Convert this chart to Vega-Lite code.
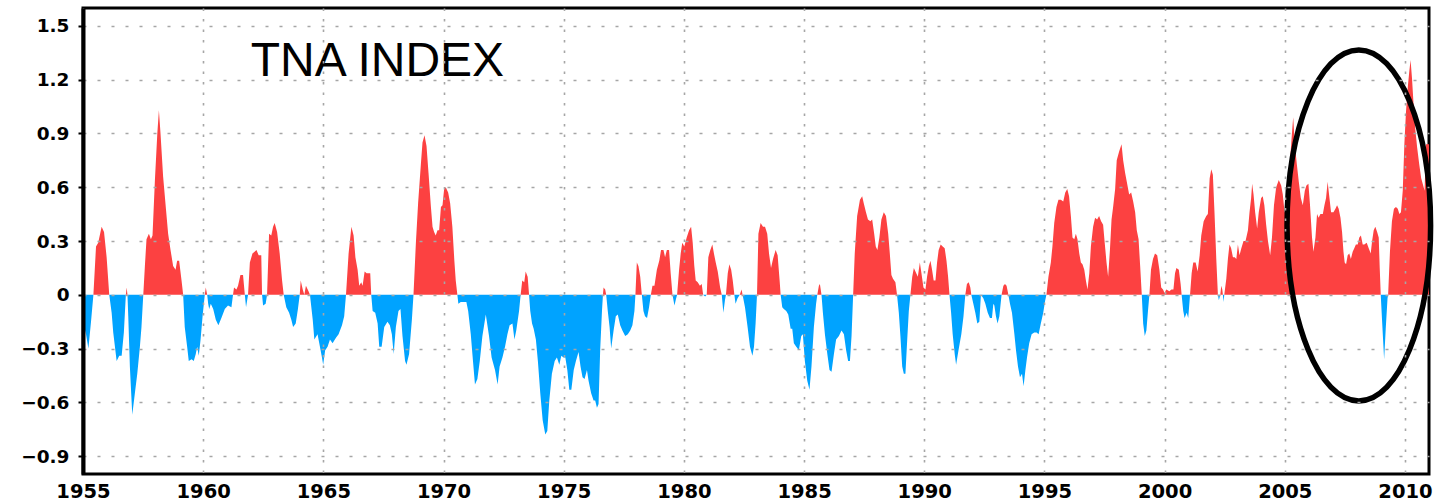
{
"$schema": "https://vega.github.io/schema/vega-lite/v6.json",
"width": 1346, "height": 466,
"autosize": "none",
"padding": {"left": 83, "top": 8, "right": 16, "bottom": 30},
"background": "white",
"config": {"view": {"stroke": "black", "strokeWidth": 3}},
"data": {"values": [
{"t":1955.000,"v":-0.15},{"t":1955.125,"v":-0.22},{"t":1955.225,"v":-0.30},{"t":1955.333,"v":-0.15},{"t":1955.433,"v":0},{"t":1955.542,"v":0.27},{"t":1955.633,"v":0.29},{"t":1955.775,"v":0.38},{"t":1955.875,"v":0.35},{"t":1955.983,"v":0.21},
{"t":1956.092,"v":0},{"t":1956.192,"v":-0.10},{"t":1956.258,"v":-0.21},{"t":1956.400,"v":-0.37},{"t":1956.508,"v":-0.34},{"t":1956.608,"v":-0.34},{"t":1956.700,"v":-0.21},{"t":1956.783,"v":0},{"t":1956.817,"v":0.04},{"t":1956.850,"v":0},{"t":1956.883,"v":-0.12},{"t":1956.950,"v":-0.40},
{"t":1957.050,"v":-0.67},{"t":1957.158,"v":-0.55},{"t":1957.258,"v":-0.44},{"t":1957.367,"v":-0.29},{"t":1957.433,"v":-0.18},{"t":1957.508,"v":0},{"t":1957.575,"v":0.16},{"t":1957.642,"v":0.31},{"t":1957.742,"v":0.34},{"t":1957.825,"v":0.31},{"t":1957.892,"v":0.33},{"t":1957.992,"v":0.64},
{"t":1958.092,"v":0.90},{"t":1958.158,"v":1.03},{"t":1958.225,"v":0.90},{"t":1958.333,"v":0.66},{"t":1958.450,"v":0.48},{"t":1958.542,"v":0.34},{"t":1958.642,"v":0.25},{"t":1958.750,"v":0.16},{"t":1958.850,"v":0.14},{"t":1958.917,"v":0.19},
{"t":1959.000,"v":0.19},{"t":1959.100,"v":0.08},{"t":1959.167,"v":0},{"t":1959.233,"v":-0.18},{"t":1959.333,"v":-0.29},{"t":1959.400,"v":-0.37},{"t":1959.517,"v":-0.36},{"t":1959.608,"v":-0.37},{"t":1959.692,"v":-0.33},{"t":1959.750,"v":-0.29},{"t":1959.817,"v":-0.34},{"t":1959.892,"v":-0.25},{"t":1959.975,"v":-0.12},
{"t":1960.067,"v":0},{"t":1960.108,"v":0.04},{"t":1960.167,"v":0},{"t":1960.208,"v":-0.05},{"t":1960.250,"v":-0.08},{"t":1960.317,"v":-0.05},{"t":1960.417,"v":-0.08},{"t":1960.525,"v":-0.14},{"t":1960.633,"v":-0.17},{"t":1960.758,"v":-0.13},{"t":1960.900,"v":-0.08},
{"t":1961.033,"v":-0.06},{"t":1961.175,"v":-0.07},{"t":1961.242,"v":0},{"t":1961.283,"v":0.04},{"t":1961.383,"v":0.03},{"t":1961.450,"v":0.05},{"t":1961.550,"v":0.11},{"t":1961.658,"v":0.11},{"t":1961.733,"v":0},{"t":1961.783,"v":-0.07},{"t":1961.867,"v":0},{"t":1961.942,"v":0.18},
{"t":1962.050,"v":0.23},{"t":1962.217,"v":0.25},{"t":1962.308,"v":0.22},{"t":1962.417,"v":0.22},{"t":1962.450,"v":0},{"t":1962.492,"v":-0.06},{"t":1962.600,"v":-0.05},{"t":1962.658,"v":0},{"t":1962.742,"v":0.34},{"t":1962.833,"v":0.33},{"t":1962.908,"v":0.38},{"t":1962.975,"v":0.40},
{"t":1963.075,"v":0.35},{"t":1963.183,"v":0.23},{"t":1963.283,"v":0.08},{"t":1963.350,"v":0},{"t":1963.458,"v":-0.07},{"t":1963.575,"v":-0.10},{"t":1963.667,"v":-0.14},{"t":1963.742,"v":-0.18},{"t":1963.850,"v":-0.16},{"t":1963.942,"v":-0.08},
{"t":1964.017,"v":0},{"t":1964.058,"v":0.08},{"t":1964.142,"v":0.03},{"t":1964.208,"v":0},{"t":1964.275,"v":0.05},{"t":1964.383,"v":0.02},{"t":1964.442,"v":0},{"t":1964.558,"v":-0.14},{"t":1964.625,"v":-0.25},{"t":1964.758,"v":-0.22},{"t":1964.858,"v":-0.29},{"t":1964.942,"v":-0.35},{"t":1964.992,"v":-0.39},
{"t":1965.075,"v":-0.31},{"t":1965.175,"v":-0.29},{"t":1965.275,"v":-0.25},{"t":1965.383,"v":-0.27},{"t":1965.525,"v":-0.24},{"t":1965.633,"v":-0.22},{"t":1965.775,"v":-0.17},{"t":1965.867,"v":-0.12},{"t":1965.942,"v":0},
{"t":1966.050,"v":0.23},{"t":1966.167,"v":0.38},{"t":1966.258,"v":0.33},{"t":1966.333,"v":0.21},{"t":1966.425,"v":0.14},{"t":1966.492,"v":0.05},{"t":1966.575,"v":0.07},{"t":1966.633,"v":0.05},{"t":1966.717,"v":0.13},{"t":1966.800,"v":0.12},{"t":1966.883,"v":0.12},{"t":1966.950,"v":0.12},{"t":1966.992,"v":0},
{"t":1967.050,"v":-0.09},{"t":1967.158,"v":-0.10},{"t":1967.258,"v":-0.16},{"t":1967.325,"v":-0.29},{"t":1967.425,"v":-0.29},{"t":1967.533,"v":-0.18},{"t":1967.667,"v":-0.15},{"t":1967.767,"v":-0.17},{"t":1967.850,"v":-0.22},{"t":1967.925,"v":-0.33},
{"t":1968.017,"v":-0.18},{"t":1968.125,"v":-0.09},{"t":1968.208,"v":-0.08},{"t":1968.292,"v":-0.23},{"t":1968.400,"v":-0.37},{"t":1968.458,"v":-0.39},{"t":1968.567,"v":-0.33},{"t":1968.683,"v":-0.14},{"t":1968.750,"v":0},{"t":1968.850,"v":0.29},{"t":1968.942,"v":0.51},
{"t":1969.058,"v":0.73},{"t":1969.125,"v":0.85},{"t":1969.208,"v":0.89},{"t":1969.292,"v":0.83},{"t":1969.375,"v":0.68},{"t":1969.475,"v":0.49},{"t":1969.542,"v":0.38},{"t":1969.608,"v":0.35},{"t":1969.675,"v":0.33},{"t":1969.750,"v":0.36},{"t":1969.817,"v":0.36},{"t":1969.892,"v":0.49},{"t":1969.958,"v":0.50},
{"t":1970.025,"v":0.59},{"t":1970.092,"v":0.60},{"t":1970.192,"v":0.57},{"t":1970.275,"v":0.51},{"t":1970.367,"v":0.38},{"t":1970.450,"v":0.19},{"t":1970.508,"v":0.08},{"t":1970.575,"v":0},{"t":1970.617,"v":-0.05},{"t":1970.717,"v":-0.04},{"t":1970.850,"v":-0.04},{"t":1970.950,"v":-0.04},
{"t":1971.025,"v":-0.09},{"t":1971.133,"v":-0.22},{"t":1971.225,"v":-0.37},{"t":1971.308,"v":-0.50},{"t":1971.408,"v":-0.47},{"t":1971.508,"v":-0.37},{"t":1971.617,"v":-0.23},{"t":1971.758,"v":-0.11},{"t":1971.892,"v":-0.23},
{"t":1972.000,"v":-0.35},{"t":1972.142,"v":-0.42},{"t":1972.250,"v":-0.50},{"t":1972.333,"v":-0.40},{"t":1972.450,"v":-0.35},{"t":1972.558,"v":-0.29},{"t":1972.658,"v":-0.22},{"t":1972.750,"v":-0.17},{"t":1972.867,"v":-0.16},{"t":1972.950,"v":-0.25},
{"t":1973.025,"v":-0.20},{"t":1973.142,"v":-0.09},{"t":1973.208,"v":0},{"t":1973.275,"v":0.08},{"t":1973.358,"v":0.07},{"t":1973.417,"v":0.13},{"t":1973.500,"v":0.10},{"t":1973.558,"v":0},{"t":1973.608,"v":-0.09},{"t":1973.683,"v":-0.16},{"t":1973.750,"v":-0.19},{"t":1973.842,"v":-0.25},{"t":1973.925,"v":-0.37},
{"t":1974.025,"v":-0.55},{"t":1974.125,"v":-0.70},{"t":1974.233,"v":-0.78},{"t":1974.317,"v":-0.76},{"t":1974.400,"v":-0.59},{"t":1974.508,"v":-0.44},{"t":1974.625,"v":-0.37},{"t":1974.717,"v":-0.35},{"t":1974.817,"v":-0.39},{"t":1974.900,"v":-0.34},{"t":1974.992,"v":-0.35},
{"t":1975.067,"v":-0.35},{"t":1975.150,"v":-0.42},{"t":1975.233,"v":-0.53},{"t":1975.317,"v":-0.53},{"t":1975.417,"v":-0.42},{"t":1975.508,"v":-0.37},{"t":1975.617,"v":-0.32},{"t":1975.700,"v":-0.40},{"t":1975.783,"v":-0.46},{"t":1975.867,"v":-0.47},{"t":1975.967,"v":-0.42},
{"t":1976.033,"v":-0.48},{"t":1976.142,"v":-0.55},{"t":1976.242,"v":-0.59},{"t":1976.308,"v":-0.59},{"t":1976.383,"v":-0.63},{"t":1976.450,"v":-0.61},{"t":1976.517,"v":-0.31},{"t":1976.592,"v":-0.09},{"t":1976.633,"v":0},{"t":1976.658,"v":0.04},{"t":1976.725,"v":0.03},{"t":1976.767,"v":0},{"t":1976.833,"v":-0.09},{"t":1976.908,"v":-0.18},{"t":1976.975,"v":-0.30},
{"t":1977.075,"v":-0.20},{"t":1977.167,"v":-0.12},{"t":1977.250,"v":-0.11},{"t":1977.350,"v":-0.17},{"t":1977.442,"v":-0.20},{"t":1977.558,"v":-0.23},{"t":1977.667,"v":-0.22},{"t":1977.767,"v":-0.20},{"t":1977.858,"v":-0.17},{"t":1977.942,"v":-0.09},{"t":1977.983,"v":0},
{"t":1978.042,"v":0.18},{"t":1978.108,"v":0.16},{"t":1978.183,"v":0.10},{"t":1978.250,"v":0},{"t":1978.317,"v":-0.09},{"t":1978.383,"v":-0.12},{"t":1978.467,"v":-0.13},{"t":1978.550,"v":-0.07},{"t":1978.625,"v":0},{"t":1978.692,"v":0.05},{"t":1978.775,"v":0.05},{"t":1978.875,"v":0.14},{"t":1978.975,"v":0.19},
{"t":1979.050,"v":0.25},{"t":1979.150,"v":0.25},{"t":1979.217,"v":0.21},{"t":1979.292,"v":0.25},{"t":1979.383,"v":0.25},{"t":1979.450,"v":0.12},{"t":1979.525,"v":0},{"t":1979.608,"v":-0.06},{"t":1979.658,"v":-0.03},{"t":1979.717,"v":0},{"t":1979.800,"v":0.14},{"t":1979.867,"v":0.23},{"t":1979.933,"v":0.29},
{"t":1980.017,"v":0.27},{"t":1980.117,"v":0.32},{"t":1980.217,"v":0.36},{"t":1980.300,"v":0.38},{"t":1980.367,"v":0.29},{"t":1980.433,"v":0.16},{"t":1980.492,"v":0.08},{"t":1980.575,"v":0.07},{"t":1980.667,"v":0.05},{"t":1980.742,"v":0.06},{"t":1980.800,"v":0},{"t":1980.883,"v":-0.01},{"t":1980.950,"v":0},
{"t":1981.017,"v":0.21},{"t":1981.100,"v":0.25},{"t":1981.183,"v":0.28},{"t":1981.250,"v":0.23},{"t":1981.325,"v":0.18},{"t":1981.408,"v":0.13},{"t":1981.508,"v":0.04},{"t":1981.575,"v":0},{"t":1981.642,"v":-0.10},{"t":1981.708,"v":-0.03},{"t":1981.750,"v":0},{"t":1981.825,"v":0.12},{"t":1981.892,"v":0.17},{"t":1981.967,"v":0.14},
{"t":1982.033,"v":0.08},{"t":1982.100,"v":0},{"t":1982.150,"v":-0.05},{"t":1982.233,"v":-0.02},{"t":1982.325,"v":0},{"t":1982.400,"v":0.03},{"t":1982.442,"v":0},{"t":1982.542,"v":-0.07},{"t":1982.650,"v":-0.18},{"t":1982.750,"v":-0.29},{"t":1982.850,"v":-0.34},{"t":1982.917,"v":-0.29},{"t":1982.983,"v":-0.16},
{"t":1983.042,"v":0},{"t":1983.100,"v":0.34},{"t":1983.192,"v":0.40},{"t":1983.292,"v":0.38},{"t":1983.375,"v":0.38},{"t":1983.467,"v":0.34},{"t":1983.542,"v":0.23},{"t":1983.625,"v":0.15},{"t":1983.708,"v":0.20},{"t":1983.817,"v":0.25},{"t":1983.900,"v":0.22},{"t":1983.983,"v":0.08},
{"t":1984.025,"v":0},{"t":1984.092,"v":-0.07},{"t":1984.158,"v":-0.08},{"t":1984.258,"v":-0.09},{"t":1984.342,"v":-0.11},{"t":1984.442,"v":-0.19},{"t":1984.508,"v":-0.19},{"t":1984.575,"v":-0.27},{"t":1984.675,"v":-0.29},{"t":1984.783,"v":-0.31},{"t":1984.883,"v":-0.23},{"t":1984.950,"v":-0.22},
{"t":1985.033,"v":-0.37},{"t":1985.133,"v":-0.48},{"t":1985.225,"v":-0.53},{"t":1985.308,"v":-0.40},{"t":1985.408,"v":-0.18},{"t":1985.500,"v":-0.05},{"t":1985.550,"v":0},{"t":1985.617,"v":0.05},{"t":1985.658,"v":0.06},{"t":1985.725,"v":0},{"t":1985.783,"v":-0.10},{"t":1985.867,"v":-0.22},{"t":1985.967,"v":-0.33},
{"t":1986.058,"v":-0.42},{"t":1986.142,"v":-0.43},{"t":1986.242,"v":-0.33},{"t":1986.333,"v":-0.25},{"t":1986.450,"v":-0.23},{"t":1986.558,"v":-0.20},{"t":1986.658,"v":-0.22},{"t":1986.750,"v":-0.31},{"t":1986.833,"v":-0.37},{"t":1986.908,"v":-0.37},{"t":1986.975,"v":-0.23},
{"t":1987.042,"v":0},{"t":1987.108,"v":0.23},{"t":1987.208,"v":0.44},{"t":1987.325,"v":0.53},{"t":1987.417,"v":0.55},{"t":1987.483,"v":0.51},{"t":1987.575,"v":0.46},{"t":1987.658,"v":0.42},{"t":1987.758,"v":0.41},{"t":1987.833,"v":0.42},{"t":1987.917,"v":0.34},{"t":1987.983,"v":0.27},
{"t":1988.050,"v":0.25},{"t":1988.133,"v":0.32},{"t":1988.217,"v":0.42},{"t":1988.317,"v":0.46},{"t":1988.408,"v":0.44},{"t":1988.500,"v":0.34},{"t":1988.567,"v":0.23},{"t":1988.633,"v":0.11},{"t":1988.700,"v":0.09},{"t":1988.800,"v":0.07},{"t":1988.867,"v":0},{"t":1988.942,"v":-0.10},
{"t":1989.008,"v":-0.23},{"t":1989.083,"v":-0.40},{"t":1989.150,"v":-0.44},{"t":1989.217,"v":-0.44},{"t":1989.292,"v":-0.25},{"t":1989.358,"v":-0.09},{"t":1989.425,"v":0},{"t":1989.500,"v":0.10},{"t":1989.567,"v":0.15},{"t":1989.633,"v":0.13},{"t":1989.733,"v":0.10},{"t":1989.817,"v":0.18},{"t":1989.883,"v":0.12},{"t":1989.967,"v":0.04},
{"t":1990.050,"v":0.03},{"t":1990.117,"v":0.10},{"t":1990.192,"v":0.16},{"t":1990.258,"v":0.19},{"t":1990.325,"v":0.14},{"t":1990.392,"v":0.08},{"t":1990.467,"v":0.08},{"t":1990.533,"v":0.18},{"t":1990.600,"v":0.25},{"t":1990.683,"v":0.28},{"t":1990.767,"v":0.27},{"t":1990.850,"v":0.26},{"t":1990.925,"v":0.19},{"t":1990.992,"v":0.10},
{"t":1991.050,"v":0},{"t":1991.117,"v":-0.10},{"t":1991.183,"v":-0.22},{"t":1991.267,"v":-0.33},{"t":1991.325,"v":-0.39},{"t":1991.425,"v":-0.31},{"t":1991.542,"v":-0.22},{"t":1991.633,"v":-0.12},{"t":1991.708,"v":0},{"t":1991.775,"v":0.06},{"t":1991.850,"v":0.07},{"t":1991.917,"v":0.04},{"t":1991.958,"v":0},
{"t":1992.042,"v":-0.05},{"t":1992.125,"v":-0.10},{"t":1992.208,"v":-0.16},{"t":1992.292,"v":-0.15},{"t":1992.358,"v":0},{"t":1992.458,"v":-0.02},{"t":1992.542,"v":-0.05},{"t":1992.642,"v":-0.10},{"t":1992.733,"v":-0.13},{"t":1992.817,"v":-0.13},{"t":1992.875,"v":-0.05},{"t":1992.917,"v":-0.06},{"t":1992.983,"v":-0.12},
{"t":1993.050,"v":-0.16},{"t":1993.125,"v":-0.12},{"t":1993.217,"v":0},{"t":1993.292,"v":0.05},{"t":1993.358,"v":0.06},{"t":1993.425,"v":0.05},{"t":1993.500,"v":0},{"t":1993.567,"v":-0.05},{"t":1993.650,"v":-0.10},{"t":1993.750,"v":-0.22},{"t":1993.817,"v":-0.31},{"t":1993.900,"v":-0.40},{"t":1993.983,"v":-0.46},
{"t":1994.067,"v":-0.44},{"t":1994.133,"v":-0.51},{"t":1994.208,"v":-0.42},{"t":1994.275,"v":-0.35},{"t":1994.367,"v":-0.27},{"t":1994.467,"v":-0.22},{"t":1994.575,"v":-0.21},{"t":1994.675,"v":-0.21},{"t":1994.758,"v":-0.22},{"t":1994.850,"v":-0.16},{"t":1994.950,"v":-0.10},
{"t":1995.033,"v":-0.03},{"t":1995.083,"v":0},{"t":1995.167,"v":0.10},{"t":1995.267,"v":0.18},{"t":1995.333,"v":0.27},{"t":1995.408,"v":0.40},{"t":1995.500,"v":0.49},{"t":1995.583,"v":0.53},{"t":1995.683,"v":0.53},{"t":1995.783,"v":0.52},{"t":1995.867,"v":0.57},{"t":1995.950,"v":0.59},
{"t":1996.025,"v":0.55},{"t":1996.100,"v":0.44},{"t":1996.167,"v":0.32},{"t":1996.242,"v":0.31},{"t":1996.308,"v":0.34},{"t":1996.375,"v":0.31},{"t":1996.450,"v":0.23},{"t":1996.517,"v":0.18},{"t":1996.583,"v":0.17},{"t":1996.658,"v":0.14},{"t":1996.725,"v":0.08},{"t":1996.792,"v":0.03},{"t":1996.867,"v":0.12},{"t":1996.933,"v":0.27},
{"t":1997.025,"v":0.38},{"t":1997.108,"v":0.43},{"t":1997.192,"v":0.42},{"t":1997.275,"v":0.44},{"t":1997.358,"v":0.41},{"t":1997.442,"v":0.39},{"t":1997.508,"v":0.29},{"t":1997.583,"v":0.18},{"t":1997.650,"v":0.10},{"t":1997.725,"v":0.25},{"t":1997.792,"v":0.42},{"t":1997.858,"v":0.49},{"t":1997.942,"v":0.59},
{"t":1998.008,"v":0.75},{"t":1998.108,"v":0.80},{"t":1998.208,"v":0.84},{"t":1998.275,"v":0.75},{"t":1998.358,"v":0.68},{"t":1998.442,"v":0.62},{"t":1998.525,"v":0.56},{"t":1998.608,"v":0.57},{"t":1998.692,"v":0.52},{"t":1998.775,"v":0.46},{"t":1998.842,"v":0.36},{"t":1998.917,"v":0.31},{"t":1998.983,"v":0.16},
{"t":1999.050,"v":0},{"t":1999.108,"v":-0.16},{"t":1999.175,"v":-0.23},{"t":1999.242,"v":-0.20},{"t":1999.308,"v":-0.09},{"t":1999.367,"v":0},{"t":1999.433,"v":0.14},{"t":1999.517,"v":0.20},{"t":1999.600,"v":0.23},{"t":1999.692,"v":0.22},{"t":1999.783,"v":0.14},{"t":1999.858,"v":0.04},{"t":1999.933,"v":0.03},
{"t":2000.000,"v":0.01},{"t":2000.067,"v":0.03},{"t":2000.200,"v":0.02},{"t":2000.283,"v":0.03},{"t":2000.367,"v":0.03},{"t":2000.433,"v":0.12},{"t":2000.492,"v":0.15},{"t":2000.592,"v":0.14},{"t":2000.667,"v":0.06},{"t":2000.708,"v":0},{"t":2000.775,"v":-0.09},{"t":2000.833,"v":-0.13},{"t":2000.917,"v":-0.10},{"t":2000.983,"v":-0.13},
{"t":2001.058,"v":0},{"t":2001.125,"v":0.12},{"t":2001.192,"v":0.18},{"t":2001.292,"v":0.18},{"t":2001.375,"v":0.13},{"t":2001.458,"v":0.22},{"t":2001.525,"v":0.33},{"t":2001.625,"v":0.41},{"t":2001.733,"v":0.44},{"t":2001.800,"v":0.45},{"t":2001.875,"v":0.65},{"t":2001.942,"v":0.70},
{"t":2002.008,"v":0.67},{"t":2002.075,"v":0.46},{"t":2002.150,"v":0.20},{"t":2002.217,"v":0},{"t":2002.258,"v":-0.03},{"t":2002.317,"v":0},{"t":2002.358,"v":0.05},{"t":2002.400,"v":0.03},{"t":2002.425,"v":0},{"t":2002.450,"v":-0.04},{"t":2002.483,"v":0},{"t":2002.567,"v":0.09},{"t":2002.633,"v":0.20},{"t":2002.700,"v":0.28},{"t":2002.767,"v":0.26},{"t":2002.842,"v":0.21},{"t":2002.917,"v":0.21},{"t":2002.983,"v":0.20},
{"t":2003.050,"v":0.28},{"t":2003.117,"v":0.22},{"t":2003.192,"v":0.26},{"t":2003.283,"v":0.30},{"t":2003.367,"v":0.30},{"t":2003.467,"v":0.36},{"t":2003.533,"v":0.46},{"t":2003.600,"v":0.54},{"t":2003.642,"v":0.62},{"t":2003.700,"v":0.56},{"t":2003.767,"v":0.46},{"t":2003.850,"v":0.37},{"t":2003.917,"v":0.46},
{"t":2004.017,"v":0.54},{"t":2004.083,"v":0.55},{"t":2004.150,"v":0.50},{"t":2004.225,"v":0.39},{"t":2004.300,"v":0.30},{"t":2004.392,"v":0.22},{"t":2004.467,"v":0.32},{"t":2004.550,"v":0.50},{"t":2004.642,"v":0.60},{"t":2004.750,"v":0.64},{"t":2004.850,"v":0.61},{"t":2004.917,"v":0.56},{"t":2004.992,"v":0.46},
{"t":2005.058,"v":0.46},{"t":2005.125,"v":0.58},{"t":2005.208,"v":0.73},{"t":2005.292,"v":0.89},{"t":2005.350,"v":0.99},{"t":2005.417,"v":0.84},{"t":2005.500,"v":0.73},{"t":2005.583,"v":0.63},{"t":2005.667,"v":0.54},{"t":2005.750,"v":0.50},{"t":2005.833,"v":0.58},{"t":2005.900,"v":0.61},{"t":2005.983,"v":0.62},
{"t":2006.050,"v":0.50},{"t":2006.133,"v":0.32},{"t":2006.192,"v":0.24},{"t":2006.275,"v":0.32},{"t":2006.342,"v":0.45},{"t":2006.408,"v":0.43},{"t":2006.483,"v":0.45},{"t":2006.583,"v":0.45},{"t":2006.650,"v":0.50},{"t":2006.717,"v":0.54},{"t":2006.783,"v":0.63},{"t":2006.858,"v":0.54},{"t":2006.925,"v":0.46},
{"t":2007.025,"v":0.46},{"t":2007.108,"v":0.48},{"t":2007.175,"v":0.50},{"t":2007.242,"v":0.48},{"t":2007.317,"v":0.43},{"t":2007.383,"v":0.35},{"t":2007.442,"v":0.24},{"t":2007.492,"v":0.18},{"t":2007.550,"v":0.17},{"t":2007.617,"v":0.22},{"t":2007.683,"v":0.23},{"t":2007.750,"v":0.20},{"t":2007.825,"v":0.24},{"t":2007.892,"v":0.26},{"t":2007.958,"v":0.28},
{"t":2008.033,"v":0.28},{"t":2008.100,"v":0.32},{"t":2008.167,"v":0.33},{"t":2008.242,"v":0.28},{"t":2008.308,"v":0.28},{"t":2008.408,"v":0.29},{"t":2008.492,"v":0.26},{"t":2008.575,"v":0.23},{"t":2008.633,"v":0.30},{"t":2008.700,"v":0.36},{"t":2008.767,"v":0.38},{"t":2008.842,"v":0.35},{"t":2008.908,"v":0.32},{"t":2008.950,"v":0.15},{"t":2008.992,"v":0},
{"t":2009.050,"v":-0.15},{"t":2009.133,"v":-0.36},{"t":2009.200,"v":-0.19},{"t":2009.275,"v":-0.02},{"t":2009.300,"v":0},{"t":2009.375,"v":0.24},{"t":2009.458,"v":0.41},{"t":2009.542,"v":0.48},{"t":2009.625,"v":0.49},{"t":2009.700,"v":0.48},{"t":2009.767,"v":0.45},{"t":2009.833,"v":0.46},{"t":2009.908,"v":0.58},{"t":2009.975,"v":0.84},
{"t":2010.042,"v":1.02},{"t":2010.125,"v":1.17},{"t":2010.183,"v":1.25},{"t":2010.233,"v":1.31},{"t":2010.292,"v":1.21},{"t":2010.350,"v":1.08},{"t":2010.425,"v":0.93},{"t":2010.508,"v":0.82},{"t":2010.592,"v":0.73},{"t":2010.675,"v":0.65},{"t":2010.758,"v":0.61},{"t":2010.817,"v":0.58},{"t":2010.875,"v":0.84},{"t":2010.917,"v":0.84},{"t":2011.000,"v":0.84}
]},
"encoding": {
  "x": {"field": "t", "type": "quantitative",
    "scale": {"domain": [1955, 2011], "nice": false, "zero": false},
    "axis": {"values": [1955,1960,1965,1970,1975,1980,1985,1990,1995,2000,2005,2010], "format": "d", "title": null,
      "grid": true, "gridColor": "#a6a6a6", "gridDash": [2.5, 8], "gridWidth": 1.6,
      "domain": false, "ticks": false, "tickSize": 0, "labelPadding": 8.5,
      "labelFont": "DejaVu Sans", "labelFontWeight": "bold", "labelFontSize": 19.5, "labelColor": "black",
      "labelFlush": false, "labelOverlap": false, "zindex": 1}},
  "y": {"field": "v", "type": "quantitative", "stack": null,
    "scale": {"domain": [-1, 1.6], "nice": false, "zero": false},
    "axis": {"values": [-0.9,-0.6,-0.3,0,0.3,0.6,0.9,1.2,1.5], "labelExpr": "datum.value == 0 ? '0' : format(datum.value, '.1f')", "title": null,
      "grid": true, "gridColor": "#a6a6a6", "gridDash": [3, 11], "gridWidth": 1.6,
      "domain": true, "domainColor": "black", "domainWidth": 4,
      "ticks": true, "tickColor": "black", "tickSize": 5, "tickWidth": 2, "labelPadding": 9,
      "labelFont": "DejaVu Sans", "labelFontWeight": "bold", "labelFontSize": 18.5, "labelColor": "black",
      "labelFlush": false, "labelOverlap": false, "zindex": 1}}
},
"layer": [
  {"transform": [{"filter": "datum.v >= 0"}],
   "mark": {"type": "area", "color": "#fc4141", "opacity": 1},
   "encoding": {"y2": {"datum": 0}}},
  {"transform": [{"filter": "datum.v <= 0"}],
   "mark": {"type": "area", "color": "#00a3ff", "opacity": 1},
   "encoding": {"y2": {"datum": 0}}},
  {"data": {"values": [{"t": 1967.25, "v": 1.222, "label": "TNA INDEX"}]},
   "mark": {"type": "text", "font": "Liberation Sans", "fontSize": 48, "align": "center", "baseline": "alphabetic", "color": "black"},
   "encoding": {"text": {"field": "label"}}},
  {"data": {"values": [{"t": 2008.08, "v": 0.387}]},
   "mark": {"type": "point", "shape": "M0,-1 C0.2259,-1 0.409,-0.5523 0.409,0 C0.409,0.5523 0.2259,1 0,1 C-0.2259,1 -0.409,0.5523 -0.409,0 C-0.409,-0.5523 -0.2259,-1 0,-1 Z", "size": 123201, "filled": false, "color": "black", "strokeWidth": 5.5, "opacity": 1}}
]
}
